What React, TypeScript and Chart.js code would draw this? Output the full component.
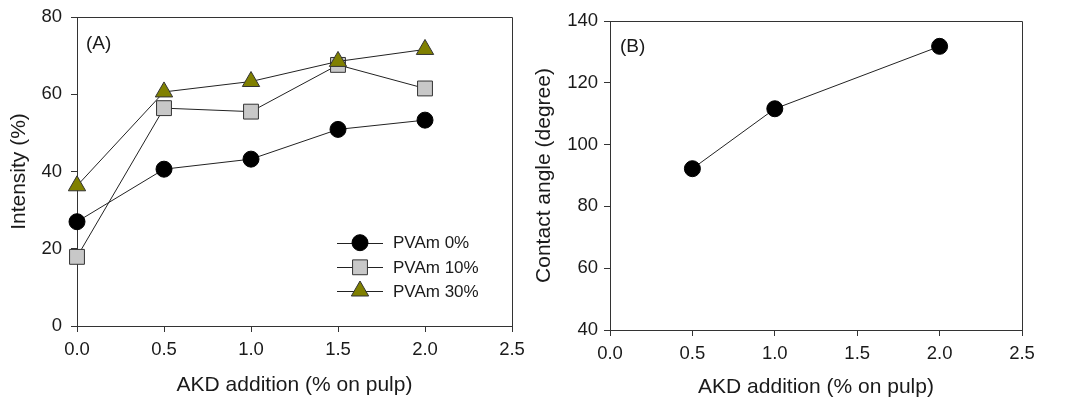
import React, { useEffect, useRef } from 'react';
import { Chart, registerables } from 'chart.js';

Chart.register(...registerables);

// ---------- data ----------
const akdAddition = [0, 0.5, 1.0, 1.5, 2.0];
const pvam0 = [27.0, 40.6, 43.2, 50.9, 53.3];
const pvam10 = [17.9, 56.4, 55.5, 67.6, 61.5];
const pvam30 = [36.3, 60.6, 63.3, 68.5, 71.6];
const seriesLabels = ['PVAm 0%', 'PVAm 10%', 'PVAm 30%'];

const contactX = [0.5, 1.0, 2.0];
const contactAngle = [92.2, 111.6, 131.8];

const xTicks = [0, 0.5, 1.0, 1.5, 2.0, 2.5];
const intensityTicks = [0, 20, 40, 60, 80];
const angleTicks = [40, 60, 80, 100, 120, 140];

const xTitle = 'AKD addition (% on pulp)';
const yTitleA = 'Intensity (%)';
const yTitleB = 'Contact angle (degree)';

// ---------- styles ----------
const FONT = "'Liberation Sans', Arial, sans-serif";
const TEXT = '#1a1a1a';
const AXIS = '#333333';
const LINE = '#222222';

type Marker = { style: string; r: number; fill: string; stroke: string };
const markers: Marker[] = [
  { style: 'circle', r: 8, fill: '#000000', stroke: '#000000' },
  { style: 'rect', r: 10.5, fill: '#c8c8c8', stroke: '#333333' },
  { style: 'triangle', r: 10, fill: '#808000', stroke: '#333333' },
];

function drawMarker(ctx: CanvasRenderingContext2D, m: Marker, x: number, y: number) {
  ctx.save();
  ctx.beginPath();
  if (m.style === 'circle') {
    ctx.arc(x, y, m.r, 0, Math.PI * 2);
  } else if (m.style === 'rect') {
    const s = m.r * Math.SQRT1_2;
    ctx.rect(x - s, y - s, 2 * s, 2 * s);
  } else {
    const dx = m.r * Math.sin((2 * Math.PI) / 3);
    ctx.moveTo(x, y - m.r);
    ctx.lineTo(x + dx, y + m.r / 2);
    ctx.lineTo(x - dx, y + m.r / 2);
    ctx.closePath();
  }
  ctx.fillStyle = m.fill;
  ctx.fill();
  ctx.lineWidth = 1;
  ctx.strokeStyle = m.stroke;
  ctx.stroke();
  ctx.restore();
}

const framePlugin = {
  id: 'frame',
  beforeDatasetsDraw(chart: any) {
    const { ctx, chartArea } = chart;
    ctx.save();
    ctx.strokeStyle = AXIS;
    ctx.lineWidth = 1;
    ctx.beginPath();
    const l = Math.round(chartArea.left) + 0.5;
    const r = Math.round(chartArea.right) + 0.5;
    const t = Math.round(chartArea.top) + 0.5;
    const b = Math.round(chartArea.bottom) + 0.5;
    ctx.moveTo(l, t);
    ctx.lineTo(r, t);
    ctx.lineTo(r, b);
    ctx.stroke();
    ctx.restore();
  },
};

function panelLabelPlugin(text: string, x: number, y: number) {
  return {
    id: 'panelLabel',
    afterDraw(chart: any) {
      const { ctx } = chart;
      ctx.save();
      ctx.font = `19px ${FONT}`;
      ctx.fillStyle = TEXT;
      ctx.textAlign = 'left';
      ctx.textBaseline = 'middle';
      ctx.fillText(text, x, y);
      ctx.restore();
    },
  };
}

const legendPlugin = {
  id: 'customLegend',
  afterDatasetsDraw(chart: any) {
    const { ctx } = chart;
    const rows = [242.7, 267.3, 291];
    ctx.save();
    seriesLabels.forEach((label, i) => {
      const y = rows[i];
      ctx.strokeStyle = LINE;
      ctx.lineWidth = 1;
      ctx.beginPath();
      ctx.moveTo(337, Math.round(y) + 0.5);
      ctx.lineTo(383, Math.round(y) + 0.5);
      ctx.stroke();
      drawMarker(ctx, markers[i], 360, y);
      ctx.font = `17px ${FONT}`;
      ctx.fillStyle = TEXT;
      ctx.textAlign = 'left';
      ctx.textBaseline = 'middle';
      ctx.fillText(label, 393, y + 1);
    });
    ctx.restore();
  },
};

function xScale(height: number, titlePad: number) {
  return {
    type: 'linear',
    min: 0,
    max: 2.5,
    afterBuildTicks: (s: any) => {
      s.ticks = xTicks.map((v) => ({ value: v }));
    },
    afterFit: (s: any) => {
      s.height = height;
      s.paddingLeft = 0;
      s.paddingRight = 0;
    },
    ticks: {
      color: TEXT,
      font: { family: FONT, size: 18.5 },
      padding: 7,
      maxRotation: 0,
      autoSkip: false,
      callback: (v: any) => Number(v).toFixed(1),
    },
    grid: { display: true, drawOnChartArea: false, drawTicks: true, tickLength: 6, color: AXIS, lineWidth: 1 },
    border: { display: true, color: AXIS, width: 1 },
    title: {
      display: true,
      text: xTitle,
      color: TEXT,
      font: { family: FONT, size: 21 },
      padding: { top: 0, bottom: titlePad },
    },
  };
}

function yScale(min: number, max: number, ticks: number[], width: number, tickPad: number, titlePad: number, title: string) {
  return {
    type: 'linear',
    min,
    max,
    afterBuildTicks: (s: any) => {
      s.ticks = ticks.map((v) => ({ value: v }));
    },
    afterFit: (s: any) => {
      s.width = width;
      s.paddingTop = 0;
      s.paddingBottom = 0;
    },
    ticks: {
      color: TEXT,
      font: { family: FONT, size: 18.5 },
      padding: tickPad,
      autoSkip: false,
    },
    grid: { display: true, drawOnChartArea: false, drawTicks: true, tickLength: 6, color: AXIS, lineWidth: 1 },
    border: { display: true, color: AXIS, width: 1 },
    title: {
      display: true,
      text: title,
      color: TEXT,
      font: { family: FONT, size: 21 },
      padding: { top: titlePad, bottom: 0 },
    },
  };
}

function ChartA() {
  const ref = useRef<HTMLCanvasElement>(null);
  useEffect(() => {
    if (!ref.current) return;
    const series = [pvam0, pvam10, pvam30];
    const chart = new Chart(ref.current, {
      type: 'line',
      data: {
        datasets: series.map((vals, i) => ({
          label: seriesLabels[i],
          data: akdAddition.map((x, j) => ({ x, y: vals[j] })),
          borderColor: LINE,
          borderWidth: 1,
          pointStyle: markers[i].style,
          pointRadius: markers[i].r,
          pointBackgroundColor: markers[i].fill,
          pointBorderColor: markers[i].stroke,
          pointBorderWidth: 1,
          tension: 0,
          fill: false,
          clip: false,
          order: 2 - i,
        })),
      },
      options: {
        responsive: false,
        animation: false,
        devicePixelRatio: 1,
        layout: { padding: { top: 17, right: 18, left: 0, bottom: 0 } },
        plugins: { legend: { display: false }, tooltip: { enabled: false } },
        events: [],
        scales: {
          x: xScale(75, 3),
          y: yScale(0, 80, intensityTicks, 77, 9, 7, yTitleA),
        },
      } as any,
      plugins: [framePlugin, legendPlugin, panelLabelPlugin('(A)', 86, 44)],
    });
    return () => chart.destroy();
  }, []);
  return <canvas ref={ref} width={530} height={401} style={{ width: 530, height: 401, display: 'block' }} />;
}

function ChartB() {
  const ref = useRef<HTMLCanvasElement>(null);
  useEffect(() => {
    if (!ref.current) return;
    const chart = new Chart(ref.current, {
      type: 'line',
      data: {
        datasets: [
          {
            label: 'Contact angle',
            data: contactX.map((x, j) => ({ x, y: contactAngle[j] })),
            borderColor: LINE,
            borderWidth: 1,
            pointStyle: 'circle',
            pointRadius: 8,
            pointBackgroundColor: '#000000',
            pointBorderColor: '#000000',
            pointBorderWidth: 1,
            tension: 0,
            fill: false,
            clip: false,
          },
        ],
      },
      options: {
        responsive: false,
        animation: false,
        devicePixelRatio: 1,
        layout: { padding: { top: 21, right: 51, left: 0, bottom: 0 } },
        plugins: { legend: { display: false }, tooltip: { enabled: false } },
        events: [],
        scales: {
          x: xScale(71, 1),
          y: yScale(40, 140, angleTicks, 90, 6, 12, yTitleB),
        },
      } as any,
      plugins: [framePlugin, panelLabelPlugin('(B)', 100, 47)],
    });
    return () => chart.destroy();
  }, []);
  return <canvas ref={ref} width={553} height={401} style={{ width: 553, height: 401, display: 'block' }} />;
}

export default function App() {
  return (
    <div style={{ position: 'fixed', left: 0, top: 0, width: 1073, height: 401, background: '#ffffff', overflow: 'hidden' }}>
      <div style={{ position: 'absolute', left: 0, top: 0 }}>
        <ChartA />
      </div>
      <div style={{ position: 'absolute', left: 520, top: 0 }}>
        <ChartB />
      </div>
    </div>
  );
}
